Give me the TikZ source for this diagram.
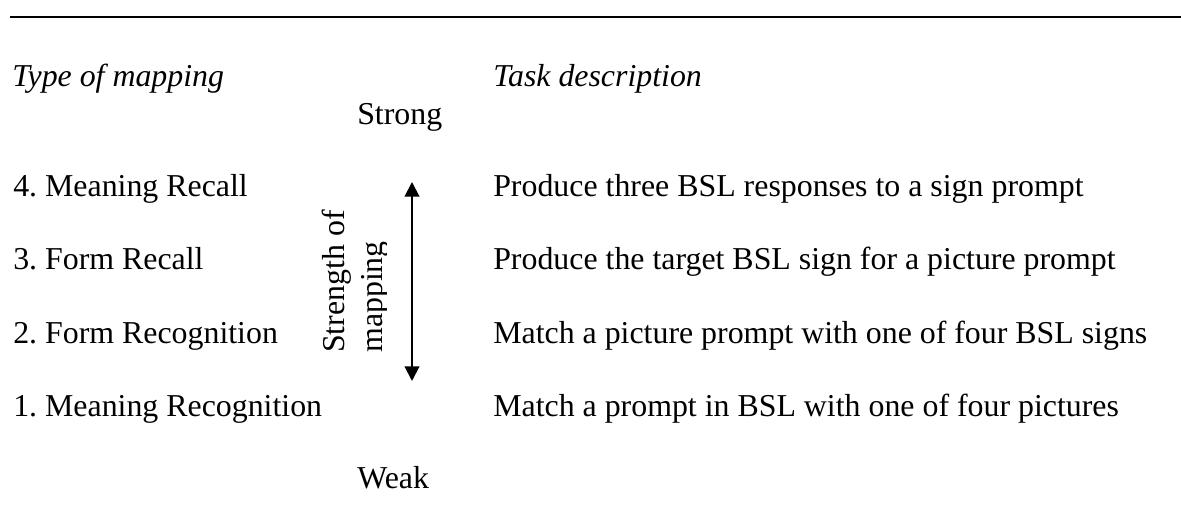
\documentclass[tikz,border=0pt]{standalone}
\usepackage{fontspec}
\setmainfont{Liberation Serif}
\usetikzlibrary{arrows.meta}
\frenchspacing
\begin{document}
\begin{tikzpicture}[x=0.75pt, y=-0.75pt]
  \useasboundingbox (0, 0) rectangle (1181, 527);

  \tikzstyle{txt}=[anchor=base west, inner sep=0pt, font=\fontsize{23.9}{28}\selectfont]
  \tikzstyle{head}=[txt, font=\fontsize{23.9}{28}\selectfont\itshape]

  \draw[line width=1.4pt] (10, 17) -- (1181, 17);

  \node[head] (type) at (12, 87) {Type of mapping};
  \node[head] (task) at (493, 87) {Task description};

  \node[txt] (strong) at (357, 125) {Strong};
  \node[txt] (weak) at (357, 488) {Weak};

  \node[txt] (m4) at (13, 197) {4. Meaning Recall};
  \node[txt] (m3) at (13, 270) {3. Form Recall};
  \node[txt] (m2) at (13, 343) {2. Form Recognition};
  \node[txt] (m1) at (13, 416) {1. Meaning Recognition};

  \node[txt] (d4) at (493, 197) {Produce three BSL responses to a sign prompt};
  \node[txt] (d3) at (493, 270) {Produce the target BSL sign for a picture prompt};
  \node[txt] (d2) at (493, 343) {Match a picture prompt with one of four BSL signs};
  \node[txt] (d1) at (493, 416) {Match a prompt in BSL with one of four pictures};

  \node[txt, rotate=90] (axis) at (344, 353) {Strength of};
  \begin{scope}
    \clip (350, 200) rectangle (386, 360);
    \node[txt, rotate=90] (axis2) at (382, 353) {mapping};
  \end{scope}

  \coordinate (top) at (412, 182);
  \coordinate (bot) at (412, 381);
  \draw[line width=1.5pt, {Triangle[length=11pt, width=11pt]}-{Triangle[length=11pt, width=11pt]}] (bot) -- (top);
\end{tikzpicture}
\end{document}
